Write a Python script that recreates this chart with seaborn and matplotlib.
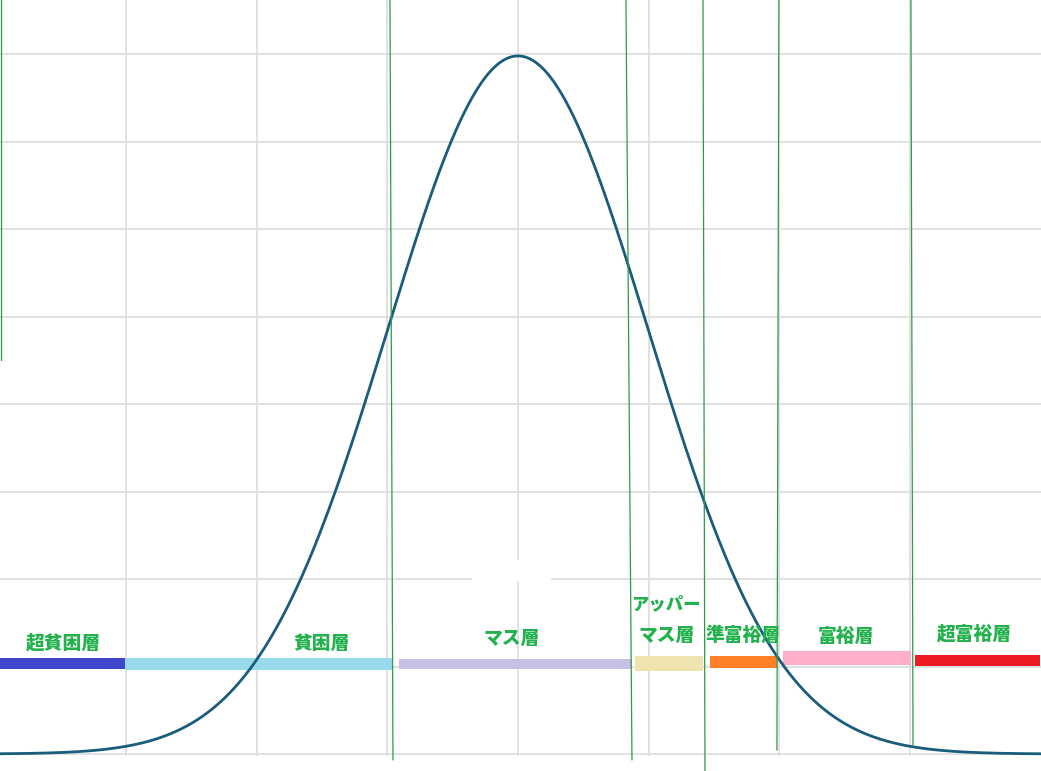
import numpy as np
import pandas as pd
import seaborn as sns
import matplotlib.pyplot as plt
from matplotlib.patches import Rectangle

# standard normal curve (mean / sd of the chart)
mu = 0.0
sd = 1.0

# income bands, x in units of sd
band_names = ['超貧困層', '貧困層', 'マス層', 'アッパーマス層', '準富裕層', '富裕層', '超富裕層']
band_left = [-3.97, -3.01, -0.91, 0.90, 1.47, 2.03, 3.04]
band_right = [-3.01, -0.96, 0.87, 1.42, 1.98, 3.01, 4.00]
band_level = [0.0517, 0.0514, 0.0514, 0.0517, 0.0526, 0.0549, 0.0534]
band_colors = ['#3F48CC', '#99D9EA', '#C8BFE7', '#EFE4B0', '#FF7F27', '#FFAEC9', '#ED1C24']
band_thick = [0.0063, 0.0069, 0.0057, 0.0086, 0.0069, 0.0080, 0.0063]

# hand-drawn green dividers (x at top, x at bottom, bottom end)
div_top = [-3.962, -0.980, 0.827, 1.417, 1.998, 3.009]
div_bot = [-3.962, -0.957, 0.873, 1.432, 1.983, 3.025]
div_end = [0.2251, -0.0034, -0.0034, -0.0097, 0.0023, 0.0046]

sns.set_theme(style='whitegrid')
plt.rcParams['font.family'] = ['Noto Sans CJK JP', 'DejaVu Sans']

fig = plt.figure(figsize=(10.41, 7.71), dpi=100)
ax = fig.add_axes([0, 0, 1, 1])
xlim = (-3.966, 4.005)
ylim = (-0.0097, 0.4309)

xs = np.linspace(xlim[0], xlim[1], 800)
curve = pd.DataFrame({'x': xs, 'y': np.exp(-0.5 * ((xs - mu) / sd) ** 2) / (sd * np.sqrt(2 * np.pi))})

ax.set_xticks(np.arange(-3, 4, 1))
ax.set_yticks(np.arange(0, 0.45, 0.05))
ax.grid(True, color='#DEDEDE', linewidth=1.3)
ax.set_axisbelow(True)

# erased patch of grid under the マス層 label, and blank strip under the baseline
ax.add_patch(Rectangle((-0.35, 0.0984), 0.6, 0.0126, facecolor='white', edgecolor='none', zorder=0.8))
ax.add_patch(Rectangle((xlim[0], ylim[0]), xlim[1] - xlim[0], -ylim[0] - 0.0012,
                       facecolor='white', edgecolor='none', zorder=0.8))

sns.lineplot(data=curve, x='x', y='y', color='#1A5C7C', linewidth=2.0, ax=ax, zorder=3)

for l, r, lv, c, h in zip(band_left, band_right, band_level, band_colors, band_thick):
    ax.barh(lv, r - l, left=l, height=h, color=c, edgecolor='none', zorder=2)

for xt, xb, yb in zip(div_top, div_bot, div_end):
    ax.plot([xt, xb], [ylim[1], yb], color='#2E9A48', linewidth=0.9, zorder=4)

green = '#22B14C'
lab = dict(color=green, fontsize=13.5, fontweight='heavy', ha='center', va='center', zorder=5)
ax.text(-3.484, 0.0634, band_names[0], **lab)
ax.text(-1.501, 0.0629, band_names[1], **lab)
ax.text(-0.046, 0.0663, band_names[2], **lab)
ax.text(1.129, 0.0857, band_names[3][:4], **{**lab, 'fontsize': 12.5})
ax.text(1.135, 0.0680, band_names[3][4:], **lab)
ax.text(1.723, 0.0680, band_names[4], **lab)
ax.text(2.511, 0.0669, band_names[5], **lab)
ax.text(3.492, 0.0686, band_names[6], **lab)

ax.set_xlim(xlim)
ax.set_ylim(ylim)
ax.set_xlabel('')
ax.set_ylabel('')
ax.tick_params(left=False, bottom=False, labelleft=False, labelbottom=False)
for s in ax.spines.values():
    s.set_visible(False)

plt.savefig('out.png', dpi=100, facecolor='white')
